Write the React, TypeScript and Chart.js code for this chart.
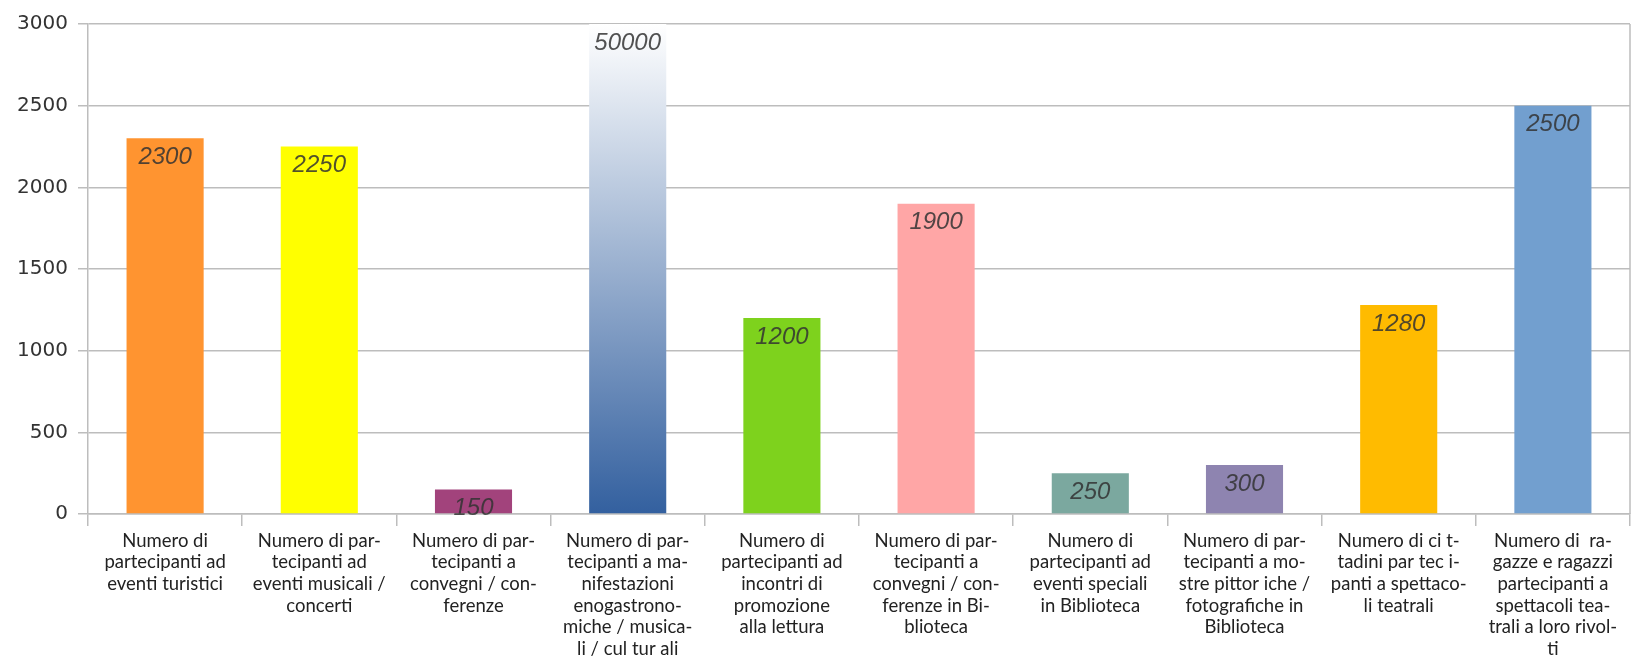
import React, { useEffect, useRef } from "react";
import { Chart, registerables } from "chart.js";

Chart.register(...registerables);

// Category labels, split into lines as they appear under each bar
const categories: string[][] = [
  ["Numero di", "partecipanti ad", "eventi turistici"],
  ["Numero di par-", "tecipanti ad", "eventi musicali /", "concerti"],
  ["Numero di par-", "tecipanti a", "convegni / con-", "ferenze"],
  ["Numero di par-", "tecipanti a ma-", "nifestazioni", "enogastrono-", "miche / musica-", "li / cul tur ali"],
  ["Numero di", "partecipanti ad", "incontri di", "promozione", "alla lettura"],
  ["Numero di par-", "tecipanti a", "convegni / con-", "ferenze in Bi-", "blioteca"],
  ["Numero di", "partecipanti ad", "eventi speciali", "in Biblioteca"],
  ["Numero di par-", "tecipanti a mo-", "stre pittor iche /", "fotografiche in", "Biblioteca"],
  ["Numero di ci t-", "tadini par tec i-", "panti a spettaco-", "li teatrali"],
  ["Numero di  ra-", "gazze e ragazzi", "partecipanti a", "spettacoli tea-", "trali a loro rivol-", "ti"],
];

const participants: number[] = [2300, 2250, 150, 50000, 1200, 1900, 250, 300, 1280, 2500];

const barColors: string[] = [
  "#FF9430",
  "#FFFF00",
  "#A2437C",
  "gradient",
  "#7ED21D",
  "#FFA6A6",
  "#7BA89F",
  "#8E84B0",
  "#FFBB00",
  "#729FCF",
];

const yMin = 0;
const yMax = 3000;
const yStep = 500;

// Writes each bar's value in italics just inside the top of the bar
const valueLabels = {
  id: "valueLabels",
  afterDatasetsDraw(chart: Chart) {
    const { ctx, chartArea } = chart;
    const meta = chart.getDatasetMeta(0);
    const data = chart.data.datasets[0].data as number[];
    ctx.save();
    ctx.font = "italic 24px 'Liberation Sans', Arial, sans-serif";
    ctx.fillStyle = "rgba(50,50,50,0.85)";
    ctx.textAlign = "center";
    ctx.textBaseline = "middle";
    meta.data.forEach((bar: any, i: number) => {
      const top = Math.max(bar.y, chartArea.top);
      ctx.fillText(String(data[i]), bar.x, top + 19);
    });
    ctx.restore();
  },
};

// Closes the plot area on the right side
const rightEdge = {
  id: "rightEdge",
  beforeDatasetsDraw(chart: Chart) {
    const { ctx, chartArea } = chart;
    ctx.save();
    ctx.strokeStyle = "#bdbdbd";
    ctx.lineWidth = 1.5;
    ctx.beginPath();
    ctx.moveTo(chartArea.right, chartArea.top);
    ctx.lineTo(chartArea.right, chartArea.bottom);
    ctx.stroke();
    ctx.restore();
  },
};

export default function App() {
  const canvasRef = useRef<HTMLCanvasElement | null>(null);

  useEffect(() => {
    document.body.style.margin = "0";
    const canvas = canvasRef.current;
    if (!canvas) return;

    const chart = new Chart(canvas, {
      type: "bar",
      data: {
        labels: categories,
        datasets: [
          {
            data: participants,
            backgroundColor: (c: any) => {
              const col = barColors[c.dataIndex];
              if (col !== "gradient") return col;
              const area = c.chart.chartArea;
              if (!area) return "#3A65A3";
              const g = c.chart.ctx.createLinearGradient(0, area.bottom, 0, area.top);
              g.addColorStop(0, "#33609F");
              g.addColorStop(1, "#FFFFFF");
              return g;
            },
            borderWidth: 0,
            barPercentage: 0.5,
            categoryPercentage: 1,
          },
        ],
      },
      options: {
        responsive: false,
        animation: false,
        devicePixelRatio: 1,
        layout: { padding: { top: 24, right: 2, left: 0, bottom: 0 } },
        plugins: {
          legend: { display: false },
          tooltip: { enabled: false },
        },
        scales: {
          x: {
            grid: {
              drawOnChartArea: false,
              drawTicks: true,
              tickLength: 12,
              color: "#bdbdbd",
              lineWidth: 1.5,
            },
            border: { color: "#bdbdbd", width: 1.5 },
            ticks: {
              autoSkip: false,
              maxRotation: 0,
              minRotation: 0,
              padding: 4,
              color: "#222222",
              font: { family: "Lato, 'Noto Sans', sans-serif", size: 18.5, lineHeight: 1.17 },
            },
            afterFit(scale: any) {
              scale.height = 147;
            },
          },
          y: {
            min: yMin,
            max: yMax,
            ticks: {
              stepSize: yStep,
              padding: 10,
              color: "#333333",
              font: { family: "'DejaVu Sans', sans-serif", size: 20 },
              callback: (v: any) => String(v),
            },
            grid: {
              color: "#bdbdbd",
              lineWidth: 1.5,
              tickLength: 10,
            },
            border: { color: "#bdbdbd", width: 1.5 },
            afterFit(scale: any) {
              scale.width = 88;
            },
          },
        },
      },
      plugins: [rightEdge, valueLabels],
    });

    return () => chart.destroy();
  }, []);

  return (
    <div style={{ position: "fixed", left: 0, top: 0, width: 1632, height: 661, background: "#fff" }}>
      <canvas ref={canvasRef} width={1632} height={661} />
    </div>
  );
}
